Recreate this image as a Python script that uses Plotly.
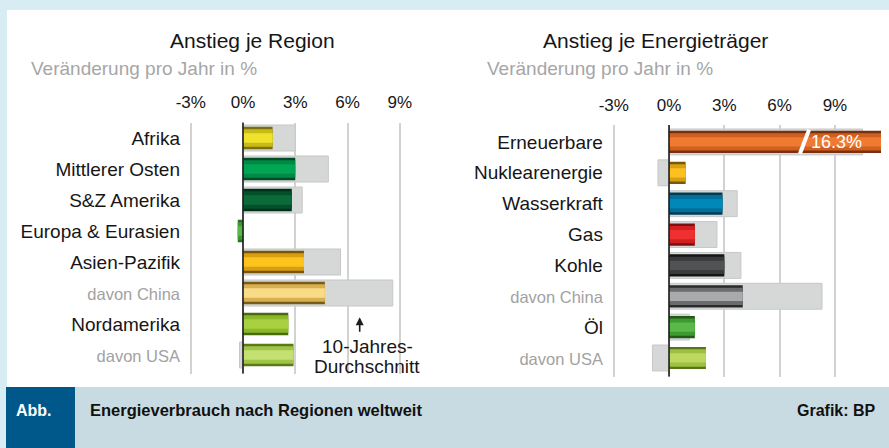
import plotly.graph_objects as go

# ── Data ────────────────────────────────────────────────────────────
region_cats = ["Afrika", "Mittlerer Osten", "S&Z Amerika", "Europa & Eurasien",
               "Asien-Pazifik", "davon China", "Nordamerika", "davon USA"]
region_growth = [1.7, 3.0, 2.8, -0.3, 3.5, 4.7, 2.6, 2.9]
region_avg = [3.0, 4.9, 3.4, 0.0, 5.6, 8.6, 0.0, -0.2]

energy_cats = ["Erneuerbare", "Nuklearenergie", "Wasserkraft", "Gas",
               "Kohle", "davon China", "Öl", "davon USA"]
energy_growth = [16.3, 0.9, 2.9, 1.4, 3.0, 4.0, 1.4, 2.0]
energy_avg = [10.5, -0.6, 3.7, 2.6, 3.9, 8.3, 1.1, -0.9]

tick_vals = [-3, 0, 3, 6, 9]
tick_text = ["-3%", "0%", "3%", "6%", "9%"]

# ── Colours (dark edge, mid, light core) ────────────────────────────
region_colors = [
    ("#7a7010", "#c8bc14", "#f0e22c"),
    ("#004d25", "#008a45", "#00a653"),
    ("#02301a", "#04502a", "#0a6a38"),
    ("#2a7020", "#3e9a30", "#5ab848"),
    ("#7a5508", "#d89e10", "#fcc41c"),
    ("#7a5a18", "#d8b050", "#f8dc88"),
    ("#4a6a10", "#8ab828", "#a8d040"),
    ("#5a7a18", "#a0c448", "#c4e070"),
]
energy_colors = [
    ("#7a3010", "#d0601e", "#f07a32"),
    ("#7a5808", "#d8a010", "#fcc020"),
    ("#003a55", "#00709a", "#0088b8"),
    ("#7a1010", "#d02020", "#f03030"),
    ("#141414", "#383a3c", "#505254"),
    ("#2a2a2a", "#6a6c6e", "#a8aaac"),
    ("#245a18", "#3c9a30", "#58b848"),
    ("#5a7418", "#9cc040", "#bcd860"),
]

W, H = 889, 448
FONT = "Liberation Sans"
DARK = "#161616"
GREY_TXT = "#a6a6a6"


def px_x(p):
    return p / W


def px_y(p):
    return 1 - p / H


def tick_labels(cats):
    out = []
    for c in cats:
        if c.startswith("davon"):
            out.append(f"<span style='color:#a2a2a2;font-size:16.5px'>{c}</span>")
        else:
            out.append(c)
    return out


def add_panel(fig, cats, growth, avg, colors, xa, ya):
    fig.add_trace(go.Bar(
        y=cats, x=avg, orientation="h", width=0.84,
        marker=dict(color="#d6d8d8", line=dict(color="#c6c8c8", width=1)),
        xaxis=xa, yaxis=ya, hoverinfo="skip",
    ))
    for layer, w in ((0, 0.72), (1, 0.56), (2, 0.3)):
        fig.add_trace(go.Bar(
            y=cats, x=growth, orientation="h", width=w,
            marker=dict(color=[c[layer] for c in colors], line=dict(width=0)),
            xaxis=xa, yaxis=ya, hoverinfo="skip",
        ))


fig = go.Figure()
add_panel(fig, region_cats, region_growth, region_avg, region_colors, "x", "y")
add_panel(fig, energy_cats, energy_growth, energy_avg, energy_colors, "x2", "y2")

xcommon = dict(
    side="top", tickvals=tick_vals, ticktext=tick_text, showgrid=True,
    gridcolor="#d2d2d2", gridwidth=1.5, zeroline=False, showline=False,
    ticks="", ticklabelstandoff=10, automargin=False,
    tickfont=dict(family=FONT, size=17, color=DARK), fixedrange=True,
)
ycommon = dict(
    type="category", showgrid=False, zeroline=False, showline=False,
    ticks="", ticklabelstandoff=8, automargin=False,
    tickfont=dict(family=FONT, size=19, color=DARK), fixedrange=True,
)

fig.update_layout(
    template="none",
    width=W, height=H,
    margin=dict(l=0, r=0, t=0, b=0, pad=0),
    paper_bgcolor="#d7edf3",
    plot_bgcolor="rgba(0,0,0,0)",
    barmode="overlay",
    showlegend=False,
    font=dict(family=FONT, color=DARK),
    xaxis=dict(xcommon, range=[-3.1, 9.1], domain=[px_x(189), px_x(401.5)], anchor="y"),
    yaxis=dict(ycommon, range=[7.6, -0.5], domain=[px_y(373.6), px_y(122.5)],
               tickvals=region_cats, ticktext=tick_labels(region_cats), anchor="x"),
    xaxis2=dict(xcommon, range=[-3.1, 11.5], domain=[px_x(611.9), px_x(881)], anchor="y2"),
    yaxis2=dict(ycommon, range=[7.6, -0.55], domain=[px_y(376.5), px_y(125)],
                tickvals=energy_cats, ticktext=tick_labels(energy_cats), anchor="x2"),
)

# ── Background panels ───────────────────────────────────────────────
shapes = [
    dict(type="rect", xref="paper", yref="paper", x0=px_x(7), x1=1,
         y0=px_y(387), y1=px_y(10), fillcolor="white", line_width=0, layer="below"),
    dict(type="rect", xref="paper", yref="paper", x0=px_x(6), x1=1,
         y0=0, y1=px_y(387), fillcolor="#c9dbe2", line_width=0, layer="below"),
    dict(type="rect", xref="paper", yref="paper", x0=px_x(6), x1=px_x(75),
         y0=0, y1=px_y(387), fillcolor="#00578a", line_width=0, layer="below"),
]
# zero lines on top of bars
for xa, ya in (("x", "y"), ("x2", "y2")):
    shapes.append(dict(type="line", xref=xa, yref=f"{ya} domain", x0=0, x1=0,
                       y0=0, y1=1, line=dict(color="#1e1e1e", width=1.6)))
# break mark on the renewables bar
shapes.append(dict(type="line", xref="x2", yref="y2", x0=7.1, x1=7.6,
                   y0=0.38, y1=-0.4, line=dict(color="white", width=4)))
fig.update_layout(shapes=shapes)

ann = [
    dict(text="Anstieg je Region", x=px_x(252), y=px_y(40), font=dict(size=21)),
    dict(text="Veränderung pro Jahr in %", x=px_x(29), y=px_y(68), xanchor="left",
         font=dict(size=19, color=GREY_TXT)),
    dict(text="Anstieg je Energieträger", x=px_x(655), y=px_y(40), font=dict(size=21)),
    dict(text="Veränderung pro Jahr in %", x=px_x(485), y=px_y(68), xanchor="left",
         font=dict(size=19, color=GREY_TXT)),
    dict(text="10-Jahres-", x=px_x(367), y=px_y(346), font=dict(size=19)),
    dict(text="Durchschnitt", x=px_x(367), y=px_y(366), font=dict(size=19)),
    dict(text="<b>Abb.</b>", x=px_x(14), y=px_y(410), xanchor="left",
         font=dict(size=16, color="white")),
    dict(text="<b>Energieverbrauch nach Regionen weltweit</b>", x=px_x(88),
         y=px_y(410), xanchor="left", font=dict(size=16.5, color="#111")),
    dict(text="<b>Grafik: BP</b>", x=px_x(878), y=px_y(410), xanchor="right",
         font=dict(size=16, color="#111")),
]
annotations = []
for a in ann:
    a.setdefault("xanchor", "center")
    annotations.append(dict(a, xref="paper", yref="paper", yanchor="middle",
                            showarrow=False))
# arrow to the average bars
annotations.append(dict(x=6.7, y=5.78, xref="x", yref="y", text="", showarrow=True,
                        ax=0, ay=16, arrowhead=2, arrowsize=1, arrowwidth=1.6,
                        arrowcolor="#1e1e1e"))
# value label for the cut-off bar
annotations.append(dict(x=9.1, y=0, xref="x2", yref="y2", text="16.3%",
                        showarrow=False, font=dict(size=18, color="white")))
fig.update_layout(annotations=annotations)

fig.write_html("out.html", config={"displayModeBar": False},
               post_script="document.body.style.margin='0';")
